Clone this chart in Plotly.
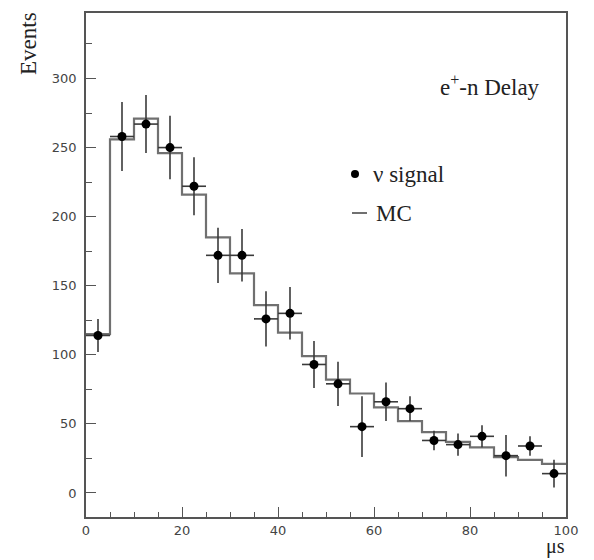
import plotly.graph_objects as go

# Positron-neutron delay distribution, 5 us bins from 0 to 100 us
bin_edges = [0, 5, 10, 15, 20, 25, 30, 35, 40, 45, 50,
             55, 60, 65, 70, 75, 80, 85, 90, 95, 100]
bin_centers = [2.5, 7.5, 12.5, 17.5, 22.5, 27.5, 32.5, 37.5, 42.5, 47.5,
               52.5, 57.5, 62.5, 67.5, 72.5, 77.5, 82.5, 87.5, 92.5, 97.5]

# measured neutrino signal and its statistical errors
signal_counts = [114, 258, 267, 250, 222, 172, 172, 126, 130, 93,
                 79, 48, 66, 61, 38, 35, 41, 27, 34, 14]
signal_errors = [12, 25, 21, 23, 21, 20, 19, 20, 19, 17,
                 16, 22, 14, 9, 7, 8, 8, 15, 7, 10]

# Monte Carlo expectation per bin
mc_counts = [115, 256, 271, 246, 216, 185, 159, 136, 116, 99,
             82, 72, 62, 52, 44, 37, 33, 26, 24, 21]

x_ticks = [0, 20, 40, 60, 80, 100]
y_ticks = [0, 50, 100, 150, 200, 250, 300]

W, H = 594, 560
L, R, T, B = 86, 28, 13, 43
PW, PH = W - L - R, H - T - B


def px(x):
    return (x - L) / PW


def py(y):
    return (H - B - y) / PH


fig = go.Figure()

# MC histogram as a step line
fig.add_trace(go.Scatter(
    x=bin_edges,
    y=mc_counts + [mc_counts[-1]],
    mode="lines",
    line=dict(shape="hv", color="#707070", width=2.2),
    hoverinfo="skip",
    showlegend=False,
))

# data points with bin-width horizontal bars
fig.add_trace(go.Scatter(
    x=bin_centers,
    y=signal_counts,
    mode="markers",
    marker=dict(color="black", size=9),
    error_y=dict(type="data", array=signal_errors, color="#3a3a3a",
                 thickness=1.6, width=0),
    error_x=dict(type="constant", value=2.5, color="#3a3a3a",
                 thickness=1.6, width=0),
    showlegend=False,
))

tick_font = dict(family="DejaVu Sans", size=13, color="#444444")
serif = "Liberation Serif, Times New Roman, serif"
text_font = dict(family=serif, size=23, color="#222222")

fig.update_xaxes(
    range=[0, 100], tickvals=x_ticks, ticktext=[str(v) for v in x_ticks],
    showgrid=False, zeroline=False,
    showline=True, linecolor="#555555", linewidth=1.6, mirror=True,
    ticks="inside", ticklen=10, tickwidth=1.3, tickcolor="#555555",
    minor=dict(dtick=5, ticks="inside", ticklen=5, tickwidth=1.2,
               tickcolor="#555555", showgrid=False),
    tickfont=tick_font, ticklabelstandoff=1,
)
fig.update_yaxes(
    range=[-17.4, 347.4], tickvals=y_ticks, ticktext=[str(v) for v in y_ticks],
    showgrid=False, zeroline=False,
    showline=True, linecolor="#555555", linewidth=1.6, mirror=True,
    ticks="inside", ticklen=10, tickwidth=1.3, tickcolor="#555555",
    minor=dict(dtick=25, ticks="inside", ticklen=6, tickwidth=1.2,
               tickcolor="#555555", showgrid=False),
    tickfont=tick_font, ticklabelstandoff=5,
)

annotations = [
    dict(text="Events", x=px(28), y=py(44), textangle=-90, font=text_font),
    dict(text="\u03bcs", x=px(555), y=py(546),
         font=dict(family=serif, size=20, color="#222222")),
    dict(text="e<sup>+</sup>-n Delay", x=px(438), y=py(85), xanchor="left",
         font=text_font),
    dict(text="\u03bd signal", x=px(371), y=py(174), xanchor="left",
         font=text_font),
    dict(text="MC", x=px(374), y=py(213), xanchor="left", font=text_font),
]
for a in annotations:
    a.update(xref="paper", yref="paper", showarrow=False)
    a.setdefault("xanchor", "center")
    a.setdefault("yanchor", "middle")

fig.update_layout(
    width=W, height=H,
    margin=dict(l=L, r=R, t=T, b=B),
    paper_bgcolor="white", plot_bgcolor="white",
    annotations=annotations,
    shapes=[
        # legend symbols
        dict(type="circle", xref="paper", yref="paper",
             x0=px(351), x1=px(359), y0=py(170), y1=py(178),
             fillcolor="black", line=dict(width=0)),
        dict(type="line", xref="paper", yref="paper",
             x0=px(352), x1=px(367), y0=py(213), y1=py(213),
             line=dict(color="#707070", width=2)),
    ],
)

fig.write_html("out.html")
